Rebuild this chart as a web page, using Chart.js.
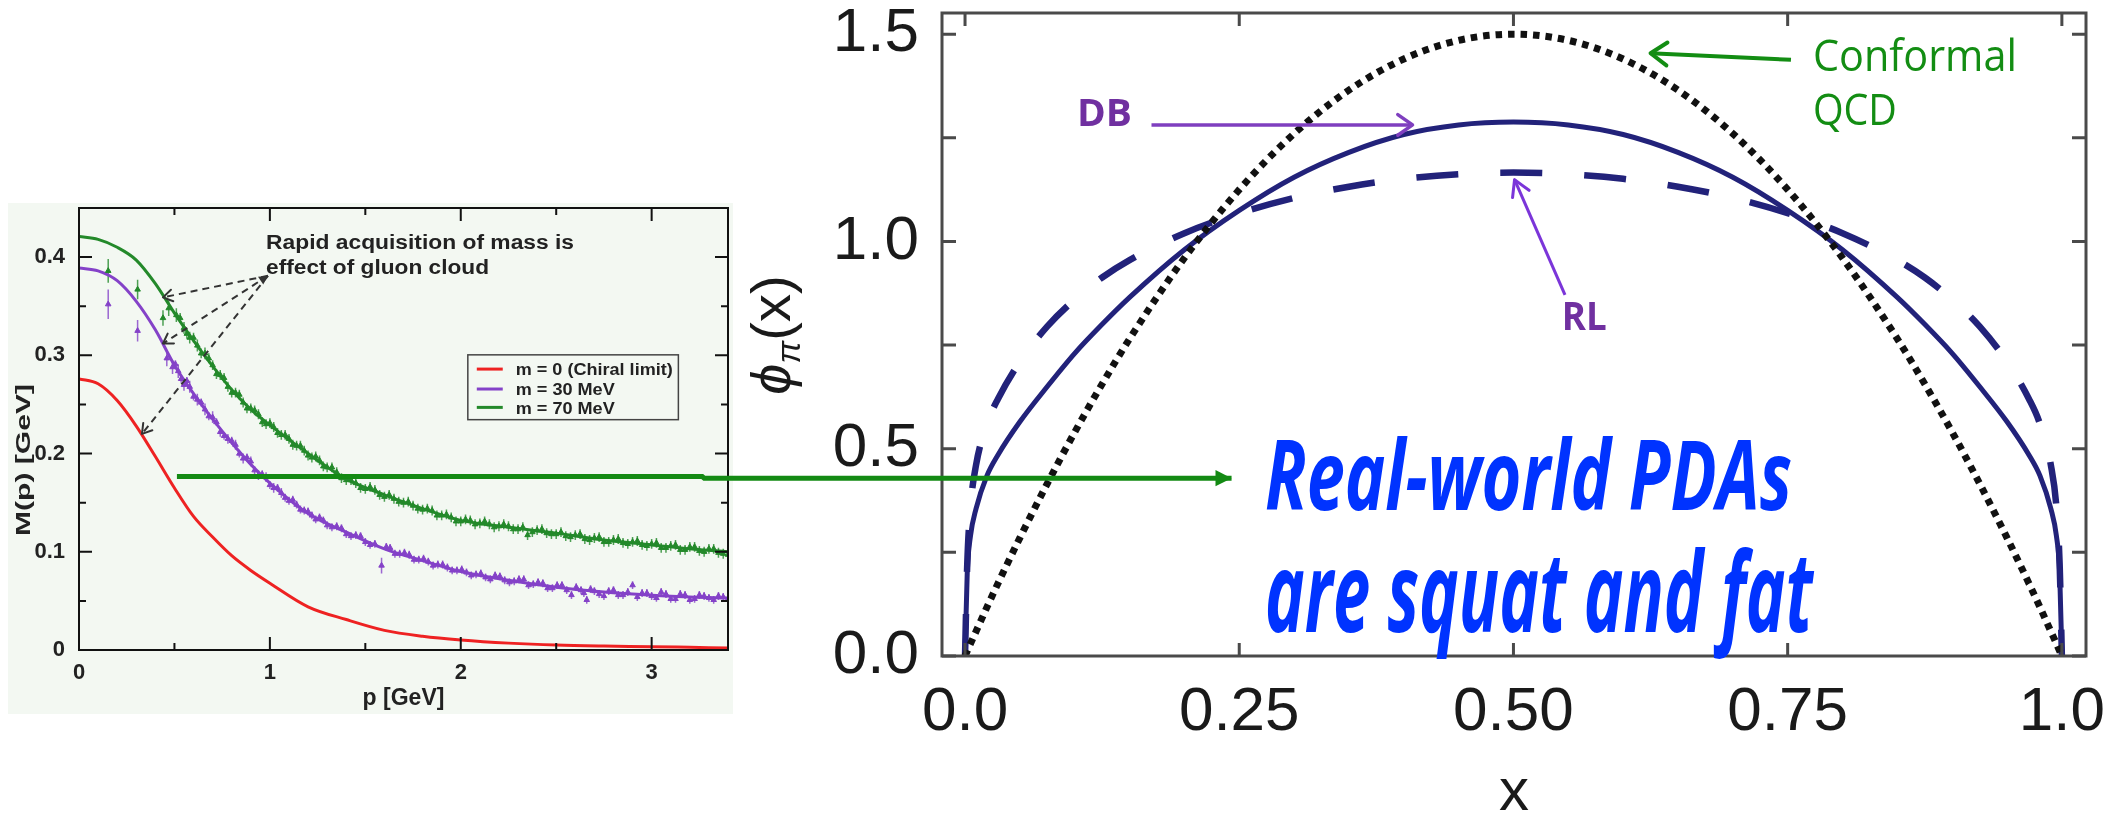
<!DOCTYPE html>
<html>
<head>
<meta charset="utf-8">
<script src="https://cdn.jsdelivr.net/npm/chart.js@4.4.1/dist/chart.umd.min.js"></script>
<style>
  html, body { margin: 0; padding: 0; background: #fff; width: 2109px; height: 817px; overflow: hidden; }
  #left { position: absolute; left: 8px; top: 203px; }
  #right { position: absolute; left: 700px; top: 0; }
  #overlay { position: absolute; left: 0; top: 0; }
</style>
</head>
<body>
<canvas id="left" width="725" height="511"></canvas>
<canvas id="right" width="1409" height="817"></canvas>
<svg id="overlay" width="2109" height="817" xmlns="http://www.w3.org/2000/svg"></svg>
<script>
// ---- left panel: running mass M(p) ----
const pGrid   = [0, 0.1, 0.2, 0.3, 0.4, 0.5, 0.6, 0.7, 0.8, 0.9, 1.0, 1.2, 1.4, 1.6, 1.8, 2.0, 2.25, 2.5, 2.75, 3.0, 3.2, 3.4];
const mChiral = [0.276, 0.271, 0.254, 0.228, 0.197, 0.165, 0.136, 0.115, 0.096, 0.081, 0.068, 0.044, 0.031, 0.02, 0.014, 0.0102, 0.007, 0.005, 0.004, 0.0034, 0.0027, 0.002];
const m30     = [0.389, 0.386, 0.376, 0.355, 0.326, 0.29, 0.261, 0.235, 0.211, 0.189, 0.17, 0.139, 0.12, 0.103, 0.091, 0.08, 0.071, 0.064, 0.059, 0.0558, 0.054, 0.053];
const m70     = [0.421, 0.418, 0.41, 0.397, 0.373, 0.343, 0.315, 0.289, 0.265, 0.245, 0.229, 0.2, 0.174, 0.158, 0.144, 0.132, 0.125, 0.119, 0.112, 0.107, 0.103, 0.1];

// lattice points (m = 30 MeV)
const p30Pts = [0.153, 0.307, 0.46, 0.49, 0.52, 0.55, 0.58, 0.62, 0.66, 0.70, 0.74, 0.78, 0.82, 0.86, 0.90, 0.94, 0.98, 1.02, 1.06, 1.10, 1.14, 1.18, 1.22, 1.26, 1.30, 1.35, 1.40, 1.45, 1.50, 1.55, 1.585, 1.63, 1.68, 1.73, 1.78, 1.83, 1.88, 1.93, 1.98, 2.03, 2.08, 2.13, 2.18, 2.23, 2.28, 2.33, 2.38, 2.43, 2.48, 2.53, 2.58, 2.63, 2.66, 2.70, 2.75, 2.80, 2.85, 2.90, 2.95, 3.00, 3.05, 3.10, 3.15, 3.20, 3.25, 3.30, 3.35, 3.40];
const m30Pts = [0.352, 0.325, 0.297, 0.288, 0.284, 0.27, 0.268, 0.255, 0.245, 0.237, 0.222, 0.215, 0.209, 0.195, 0.192, 0.178, 0.176, 0.165, 0.16, 0.152, 0.148, 0.142, 0.137, 0.135, 0.127, 0.126, 0.118, 0.117, 0.11, 0.108, 0.086, 0.104, 0.098, 0.097, 0.092, 0.09, 0.087, 0.084, 0.081, 0.079, 0.077, 0.074, 0.076, 0.071, 0.07, 0.072, 0.067, 0.068, 0.063, 0.066, 0.056, 0.061, 0.051, 0.06, 0.055, 0.061, 0.056, 0.066, 0.058, 0.055, 0.059, 0.052, 0.057, 0.051, 0.056, 0.053, 0.055, 0.052];
const e30Pts = [0.015, 0.011, 0.008, 0.007, 0.007, 0.006, 0.006, 0.006, 0.006, 0.006, 0.005, 0.005, 0.005, 0.005, 0.005, 0.005, 0.005, 0.005, 0.005, 0.004, 0.004, 0.004, 0.004, 0.004, 0.004, 0.004, 0.004, 0.004, 0.004, 0.004, 0.008, 0.004, 0.004, 0.004, 0.004, 0.004, 0.004, 0.004, 0.004, 0.004, 0.004, 0.004, 0.004, 0.004, 0.004, 0.004, 0.004, 0.004, 0.004, 0.004, 0.004, 0.004, 0.004, 0.004, 0.004, 0.004, 0.004, 0.004, 0.004, 0.004, 0.004, 0.004, 0.004, 0.004, 0.004, 0.004, 0.004, 0.004];
// second, interleaved set of m = 30 MeV points
const p30More = [0.505, 0.535, 0.565, 0.60, 0.64, 0.68, 0.72, 0.76, 0.80, 0.84, 0.88, 0.92, 0.96, 1.00, 1.04, 1.08, 1.12, 1.16, 1.20, 1.24, 1.28, 1.325, 1.375, 1.425, 1.475, 1.525, 1.61, 1.655, 1.705, 1.755, 1.805, 1.855, 1.905, 1.955, 2.005, 2.055, 2.105, 2.155, 2.205, 2.255, 2.305, 2.355, 2.405, 2.455, 2.505, 2.555, 2.605, 2.645, 2.68, 2.725, 2.775, 2.825, 2.875, 2.925, 2.975, 3.025, 3.075, 3.125, 3.175, 3.225, 3.275, 3.325, 3.375];
const m30More = [0.291, 0.276, 0.274, 0.258, 0.252, 0.238, 0.232, 0.218, 0.213, 0.2, 0.196, 0.183, 0.179, 0.168, 0.165, 0.155, 0.153, 0.143, 0.141, 0.133, 0.132, 0.125, 0.124, 0.116, 0.116, 0.107, 0.105, 0.098, 0.099, 0.092, 0.093, 0.086, 0.087, 0.081, 0.082, 0.076, 0.078, 0.072, 0.075, 0.069, 0.072, 0.066, 0.069, 0.063, 0.066, 0.061, 0.064, 0.058, 0.062, 0.057, 0.06, 0.056, 0.059, 0.054, 0.058, 0.053, 0.057, 0.052, 0.056, 0.052, 0.055, 0.051, 0.054];
const e30More = 0.004;

// lattice points (m = 70 MeV)
const p70Pts = [0.153, 0.307, 0.44, 0.47, 0.51, 0.55, 0.58, 0.62, 0.66, 0.70, 0.74, 0.78, 0.82, 0.86, 0.90, 0.94, 0.98, 1.02, 1.06, 1.10, 1.14, 1.18, 1.22, 1.26, 1.30, 1.35, 1.40, 1.45, 1.50, 1.55, 1.60, 1.65, 1.70, 1.75, 1.80, 1.85, 1.90, 1.95, 2.00, 2.05, 2.10, 2.15, 2.20, 2.25, 2.30, 2.35, 2.40, 2.45, 2.50, 2.55, 2.60, 2.65, 2.70, 2.75, 2.80, 2.85, 2.90, 2.95, 3.00, 3.05, 3.10, 3.15, 3.20, 3.25, 3.30, 3.35, 3.40];
const m70Pts = [0.386, 0.367, 0.338, 0.348, 0.341, 0.328, 0.318, 0.31, 0.302, 0.29, 0.28, 0.268, 0.262, 0.252, 0.246, 0.24, 0.23, 0.227, 0.219, 0.215, 0.208, 0.203, 0.196, 0.193, 0.186, 0.181, 0.173, 0.17, 0.164, 0.163, 0.156, 0.154, 0.15, 0.147, 0.143, 0.142, 0.137, 0.135, 0.131, 0.132, 0.129, 0.128, 0.126, 0.126, 0.123, 0.117, 0.122, 0.119, 0.118, 0.116, 0.117, 0.113, 0.114, 0.11, 0.112, 0.109, 0.11, 0.107, 0.108, 0.104, 0.106, 0.102, 0.105, 0.101, 0.103, 0.099, 0.097];
const e70Pts = [0.012, 0.010, 0.008, 0.008, 0.007, 0.006, 0.006, 0.006, 0.006, 0.005, 0.005, 0.005, 0.005, 0.005, 0.005, 0.005, 0.005, 0.005, 0.005, 0.005, 0.005, 0.005, 0.005, 0.005, 0.005, 0.005, 0.005, 0.005, 0.005, 0.005, 0.005, 0.005, 0.005, 0.005, 0.005, 0.005, 0.005, 0.005, 0.005, 0.005, 0.005, 0.005, 0.005, 0.005, 0.005, 0.005, 0.005, 0.005, 0.005, 0.005, 0.005, 0.005, 0.005, 0.005, 0.005, 0.005, 0.005, 0.005, 0.005, 0.005, 0.005, 0.005, 0.005, 0.005, 0.005, 0.005, 0.006];
// second, interleaved set of m = 70 MeV points
const p70More = [0.53, 0.565, 0.60, 0.64, 0.68, 0.72, 0.76, 0.80, 0.84, 0.88, 0.92, 0.96, 1.00, 1.04, 1.08, 1.12, 1.16, 1.20, 1.24, 1.28, 1.325, 1.375, 1.425, 1.475, 1.525, 1.575, 1.625, 1.675, 1.725, 1.775, 1.825, 1.875, 1.925, 1.975, 2.025, 2.075, 2.125, 2.175, 2.225, 2.275, 2.325, 2.375, 2.425, 2.475, 2.525, 2.575, 2.625, 2.675, 2.725, 2.775, 2.825, 2.875, 2.925, 2.975, 3.025, 3.075, 3.125, 3.175, 3.225, 3.275, 3.325, 3.375];
const m70More = [0.338, 0.322, 0.318, 0.302, 0.297, 0.281, 0.277, 0.262, 0.26, 0.246, 0.244, 0.232, 0.231, 0.221, 0.219, 0.209, 0.208, 0.198, 0.197, 0.187, 0.186, 0.175, 0.173, 0.165, 0.166, 0.158, 0.158, 0.151, 0.151, 0.144, 0.144, 0.137, 0.138, 0.131, 0.133, 0.128, 0.131, 0.125, 0.128, 0.123, 0.125, 0.12, 0.123, 0.118, 0.12, 0.115, 0.118, 0.112, 0.115, 0.11, 0.113, 0.108, 0.111, 0.106, 0.109, 0.104, 0.107, 0.102, 0.105, 0.1, 0.103, 0.098];
const e70More = 0.005;

const leftXTicks = [0, 1, 2, 3];
const leftXLabels = ['0', '1', '2', '3'];
const leftXMinor = [0.5, 1.5, 2.5];
const leftYTicks = [0, 0.1, 0.2, 0.3, 0.4];
const leftYLabels = ['0', '0.1', '0.2', '0.3', '0.4'];
const leftYMinor = [0.05, 0.15, 0.25, 0.35];
const leftSeries = ['m = 0 (Chiral limit)', 'm = 30 MeV', 'm = 70 MeV'];

// ---- right panel: pion PDA ----
const xGrid = [0, 0.002, 0.005, 0.01, 0.02, 0.03, 0.05, 0.075, 0.1, 0.125, 0.15, 0.2, 0.25, 0.3, 0.35, 0.4, 0.45, 0.5,
               0.55, 0.6, 0.65, 0.7, 0.75, 0.8, 0.85, 0.875, 0.9, 0.925, 0.95, 0.97, 0.98, 0.99, 0.995, 0.998, 1];
const phiConformal = [0, 0.012, 0.03, 0.059, 0.118, 0.175, 0.285, 0.416, 0.54, 0.656, 0.765, 0.96, 1.125, 1.26, 1.365, 1.44, 1.485, 1.5,
                      1.485, 1.44, 1.365, 1.26, 1.125, 0.96, 0.765, 0.656, 0.54, 0.416, 0.285, 0.175, 0.118, 0.059, 0.03, 0.012, 0];
const phiDB = [0, 0.2, 0.29, 0.355, 0.435, 0.485, 0.565, 0.65, 0.73, 0.8, 0.865, 0.98, 1.075, 1.155, 1.215, 1.258, 1.281, 1.288,
               1.281, 1.258, 1.215, 1.155, 1.075, 0.98, 0.865, 0.8, 0.73, 0.65, 0.565, 0.485, 0.435, 0.355, 0.29, 0.2, 0];
const phiRL = [0, 0.22, 0.36, 0.46, 0.56, 0.62, 0.71, 0.795, 0.86, 0.913, 0.955, 1.02, 1.068, 1.105, 1.132, 1.151, 1.162, 1.166,
               1.162, 1.151, 1.132, 1.105, 1.068, 1.02, 0.955, 0.913, 0.86, 0.795, 0.71, 0.62, 0.56, 0.46, 0.36, 0.22, 0];

const rightXTicks = [0, 0.25, 0.5, 0.75, 1];
const rightXLabels = ['0.0', '0.25', '0.50', '0.75', '1.0'];
const rightYTicks = [0, 0.5, 1, 1.5];
const rightYLabels = ['0.0', '0.5', '1.0', '1.5'];
const rightYMinor = [0.25, 0.75, 1.25];

const red = '#ee2222', purple = '#8442c8', green = '#23892a', navy = '#22227a';
const leftBg = '#f3f8f2';

Chart.defaults.font.family = '"Liberation Sans", Arial, sans-serif';

const xy = (xs, ys) => xs.map((x, i) => ({ x: x, y: ys[i] }));

// fills background and draws the boxed frame with inward ticks
const framePlugin = {
  id: 'frame',
  beforeDraw(chart, args, opts) {
    if (!opts.bg) return;
    const ctx = chart.ctx;
    ctx.save();
    ctx.fillStyle = opts.bg;
    ctx.fillRect(0, 0, chart.width, chart.height);
    ctx.restore();
  },
  afterDatasetsDraw(chart, args, opts) {
    const { ctx, chartArea: a, scales: { x, y } } = chart;
    ctx.save();
    ctx.strokeStyle = opts.color;
    ctx.lineWidth = opts.width;
    ctx.strokeRect(a.left, a.top, a.right - a.left, a.bottom - a.top);
    ctx.beginPath();
    opts.xMarks.forEach(([vals, len]) => vals.forEach(v => {
      const px = x.getPixelForValue(v);
      ctx.moveTo(px, a.bottom); ctx.lineTo(px, a.bottom - len);
      ctx.moveTo(px, a.top); ctx.lineTo(px, a.top + len);
    }));
    opts.yMarks.forEach(([vals, len]) => vals.forEach(v => {
      const py = y.getPixelForValue(v);
      ctx.moveTo(a.left, py); ctx.lineTo(a.left + len, py);
      ctx.moveTo(a.right, py); ctx.lineTo(a.right - len, py);
    }));
    ctx.stroke();
    ctx.restore();
  }
};

// vertical error bars for the lattice points
const errorBars = {
  id: 'errorBars',
  beforeDatasetsDraw(chart) {
    const { ctx, scales: { x, y } } = chart;
    chart.data.datasets.forEach(ds => {
      if (ds.errors === undefined) return;
      ctx.save();
      ctx.strokeStyle = ds.borderColor;
      ctx.globalAlpha = 0.8;
      ctx.lineWidth = 1.5;
      ctx.beginPath();
      ds.data.forEach((pt, i) => {
        const err = Array.isArray(ds.errors) ? ds.errors[i] : ds.errors;
        const px = x.getPixelForValue(pt.x);
        ctx.moveTo(px, y.getPixelForValue(pt.y - err));
        ctx.lineTo(px, y.getPixelForValue(pt.y + err));
      });
      ctx.stroke();
      ctx.restore();
    });
  }
};

const curve = (label, data, color) => ({
  label, data, showLine: true, borderColor: color, backgroundColor: color,
  borderWidth: 3, pointRadius: 0, cubicInterpolationMode: 'monotone'
});
const points = (label, data, errors, color) => ({
  label, data, errors, showLine: false, borderColor: color, backgroundColor: color,
  pointStyle: 'triangle', pointRadius: 3.2, borderWidth: 1
});

const leftChart = new Chart(document.getElementById('left'), {
  type: 'scatter',
  data: {
    datasets: [
      points('m30 data', xy(p30Pts, m30Pts), e30Pts, purple),
      points('m30 data (2)', xy(p30More, m30More), e30More, purple),
      points('m70 data', xy(p70Pts, m70Pts), e70Pts, green),
      points('m70 data (2)', xy(p70More, m70More), e70More, green),
      curve(leftSeries[0], xy(pGrid, mChiral), red),
      curve(leftSeries[1], xy(pGrid, m30), purple),
      curve(leftSeries[2], xy(pGrid, m70), green)
    ]
  },
  options: {
    responsive: false, animation: false, devicePixelRatio: 1,
    layout: { padding: { top: 3, right: 5, left: 0, bottom: 0 } },
    plugins: {
      legend: { display: false }, tooltip: { enabled: false },
      frame: { bg: leftBg, color: '#111', width: 2,
               xMarks: [[leftXTicks, 13], [leftXMinor, 7]], yMarks: [[leftYTicks, 13], [leftYMinor, 7]] }
    },
    scales: {
      x: {
        type: 'linear', min: 0, max: 3.4,
        grid: { display: false }, border: { display: false },
        afterBuildTicks: s => { s.ticks = leftXTicks.map(v => ({ value: v })); },
        afterFit: s => { s.height = 64; s.paddingLeft = 0; s.paddingRight = 0; },
        ticks: { padding: 2, color: '#222', font: { size: 22, weight: 'bold' },
                 callback: v => leftXLabels[leftXTicks.indexOf(v)] },
        title: { display: true, text: 'p [GeV]', color: '#222', font: { size: 23, weight: 'bold', lineHeight: 1.2 },
                 padding: { top: 0, bottom: 2 } }
      },
      y: {
        type: 'linear', min: 0, max: 0.45,
        grid: { display: false }, border: { display: false },
        afterBuildTicks: s => { s.ticks = leftYTicks.map(v => ({ value: v })); },
        afterFit: s => { s.width = 71; s.paddingTop = 0; s.paddingBottom = 0; },
        ticks: { padding: 6, color: '#222', font: { size: 22, weight: 'bold' },
                 callback: v => leftYLabels[leftYTicks.indexOf(v)] }
      }
    }
  },
  plugins: [framePlugin, errorBars]
});

const rightChart = new Chart(document.getElementById('right'), {
  type: 'scatter',
  data: {
    datasets: [
      { label: 'Conformal QCD', data: xy(xGrid, phiConformal), showLine: true, borderColor: '#111',
        borderWidth: 7, borderDash: [6.5, 6], pointRadius: 0, cubicInterpolationMode: 'monotone' },
      { label: 'DB', data: xy(xGrid, phiDB), showLine: true, borderColor: navy,
        borderWidth: 5, pointRadius: 0, cubicInterpolationMode: 'monotone' },
      { label: 'RL', data: xy(xGrid, phiRL), showLine: true, borderColor: navy,
        borderWidth: 6.5, borderDash: [42, 42], pointRadius: 0, cubicInterpolationMode: 'monotone' }
    ]
  },
  options: {
    responsive: false, animation: false, devicePixelRatio: 1,
    layout: { padding: { top: 13, right: 23, left: 0, bottom: 0 } },
    plugins: {
      legend: { display: false }, tooltip: { enabled: false },
      frame: { color: '#4a4a4a', width: 3,
               xMarks: [[rightXTicks, 13]], yMarks: [[rightYTicks, 14], [rightYMinor, 14]] }
    },
    scales: {
      x: {
        type: 'linear', min: -0.021, max: 1.022,
        grid: { display: false }, border: { display: false },
        afterBuildTicks: s => { s.ticks = rightXTicks.map(v => ({ value: v })); },
        afterFit: s => { s.height = 161; s.paddingLeft = 0; s.paddingRight = 0; },
        ticks: { padding: 12, color: '#1a1a1a', font: { size: 62 },
                 callback: v => rightXLabels[rightXTicks.indexOf(v)] },
        title: { display: true, text: 'x', color: '#1a1a1a', font: { size: 60, lineHeight: 0.8 },
                 padding: { top: 0, bottom: 0 } }
      },
      y: {
        type: 'linear', min: 0, max: 1.551,
        grid: { display: false }, border: { display: false },
        afterBuildTicks: s => { s.ticks = rightYTicks.map(v => ({ value: v })); },
        afterFit: s => { s.width = 242; s.paddingTop = 0; s.paddingBottom = 0; },
        ticks: { padding: 15, color: '#1a1a1a', font: { size: 62 },
                 callback: v => rightYLabels[rightYTicks.indexOf(v)] }
      }
    }
  },
  plugins: [framePlugin]
});

// ---- annotations (positions taken from the two charts' scales) ----
const svg = document.getElementById('overlay');
const NS = 'http://www.w3.org/2000/svg';
function el(tag, attrs) {
  const e = document.createElementNS(NS, tag);
  Object.entries(attrs).forEach(([k, v]) => e.setAttribute(k, v));
  svg.appendChild(e);
  return e;
}
const L = (p, m) => [8 + leftChart.scales.x.getPixelForValue(p), 203 + leftChart.scales.y.getPixelForValue(m)];
const R = (x, y) => [700 + rightChart.scales.x.getPixelForValue(x), rightChart.scales.y.getPixelForValue(y)];

function head(tip, from, len, deg) {
  const a = Math.atan2(tip[1] - from[1], tip[0] - from[0]);
  const r = deg * Math.PI / 180;
  return [[tip[0] - len * Math.cos(a - r), tip[1] - len * Math.sin(a - r)], tip,
          [tip[0] - len * Math.cos(a + r), tip[1] - len * Math.sin(a + r)]];
}
function arrow(pts, o) {
  el('polyline', { points: pts.map(p => p.join(',')).join(' '), fill: 'none', stroke: o.color,
                   'stroke-width': o.width, 'stroke-dasharray': o.dash || 'none' });
  const tip = pts[pts.length - 1], from = pts[pts.length - 2];
  const h = head(tip, from, o.head, o.angle || 30);
  if (o.filled) el('polygon', { points: h.map(p => p.join(',')).join(' '), fill: o.color });
  else el('polyline', { points: h.map(p => p.join(',')).join(' '), fill: 'none', stroke: o.color,
                        'stroke-width': o.headWidth || o.width, 'stroke-linecap': 'round', 'stroke-linejoin': 'round' });
}
function label(pos, str, o) {
  const t = el('text', { x: pos[0], y: pos[1], 'font-family': o.family || '"Liberation Sans", Arial, sans-serif',
    'font-size': o.size, 'font-weight': o.weight || 'normal', 'font-style': o.style || 'normal',
    fill: o.color, 'text-anchor': o.anchor || 'start' });
  if (o.length) { t.setAttribute('textLength', o.length); t.setAttribute('lengthAdjust', 'spacingAndGlyphs'); }
  if (o.rotate) t.setAttribute('transform', `rotate(${o.rotate} ${pos[0]} ${pos[1]})`);
  t.textContent = str;
  return t;
}

// left panel: axis title, note, dashed arrows, legend
label([30, 460], 'M(p) [GeV]', { size: 21, weight: 'bold', color: '#222', anchor: 'middle', rotate: -90, length: 152 });
label(L(0.98, 0.408), 'Rapid acquisition of mass is', { size: 20, weight: 'bold', color: '#222', length: 308 });
label(L(0.98, 0.383), 'effect of gluon cloud', { size: 20, weight: 'bold', color: '#222', length: 223 });
const noteStart = L(0.99, 0.381);
[[0.44, 0.359], [0.44, 0.312], [0.33, 0.22]].forEach(([p, m]) =>
  arrow([noteStart, L(p, m)], { color: '#333', width: 2, dash: '7 5', head: 11, angle: 32, headWidth: 2 }));
el('polygon', { points: head(noteStart, L(0.6, 0.33), 10, 28).map(p => p.join(',')).join(' '), fill: '#333' });

const box1 = L(2.037, 0.3005), box2 = L(3.14, 0.2345);
el('rect', { x: box1[0], y: box1[1], width: box2[0] - box1[0], height: box2[1] - box1[1],
             fill: leftBg, stroke: '#444', 'stroke-width': 1.5 });
[[red, 0.286, 0.280, 157], [purple, 0.2657, 0.2599, 99], [green, 0.247, 0.2406, 99]].forEach(([c, ml, mt, w], i) => {
  const a = L(2.084, ml), b = L(2.22, ml);
  el('line', { x1: a[0], y1: a[1], x2: b[0], y2: b[1], stroke: c, 'stroke-width': 3 });
  label(L(2.288, mt), leftSeries[i], { size: 16, weight: 'bold', color: '#222', length: w });
});

// link arrow from the left panel into the right one
const linkStart = L(0.513, 0.1766), linkTip = R(0.243, 0.429);
const jogX = L(3.265, 0)[0];
arrow([linkStart, [jogX, linkStart[1]], [jogX + 2, linkTip[1]], linkTip],
      { color: '#138a13', width: 5, head: 18, angle: 27, filled: true });

// right panel: axis title
const yt = label([790, 335], '', { size: 56, color: '#1a1a1a', anchor: 'middle', rotate: -90 });
const phi = document.createElementNS(NS, 'tspan'); phi.setAttribute('font-style', 'italic'); phi.textContent = 'ϕ';
const pi = document.createElementNS(NS, 'tspan'); pi.setAttribute('font-style', 'italic');
pi.setAttribute('font-size', 34); pi.setAttribute('dy', 10); pi.textContent = 'π';
const arg = document.createElementNS(NS, 'tspan'); arg.setAttribute('dy', -10); arg.textContent = '(x)';
yt.append(phi, pi, arg);

// right panel: labels and arrows
const calib = '"Open Sans", "Noto Sans", sans-serif';
label(R(0.773, 1.411), 'Conformal', { size: 43, color: '#138d13', family: calib, length: 204 });
label(R(0.773, 1.280), 'QCD', { size: 43, color: '#138d13', family: calib, length: 84 });
arrow([R(0.753, 1.438), R(0.625, 1.454)], { color: '#138d13', width: 4, head: 20, angle: 35 });

label(R(0.102, 1.278), 'DB', { size: 38, weight: 'bold', color: '#7030a0', family: calib, length: 55 });
arrow([R(0.17, 1.281), R(0.408, 1.281)], { color: '#7f3fbf', width: 3.5, head: 18, angle: 35 });
label(R(0.544, 0.787), 'RL', { size: 39, weight: 'bold', color: '#7030a0', family: calib, length: 45 });
arrow([R(0.547, 0.871), R(0.501, 1.149)], { color: '#7b35d9', width: 3, head: 18, angle: 30 });

label(R(0.2735, 0.352), 'Real-world PDAs', { size: 97, weight: 'bold', style: 'italic', color: '#0033ff', family: calib, length: 527 });
label(R(0.2735, 0.058), 'are squat and fat', { size: 112, weight: 'bold', style: 'italic', color: '#0033ff', family: calib, length: 548 });
</script>
</body>
</html>
